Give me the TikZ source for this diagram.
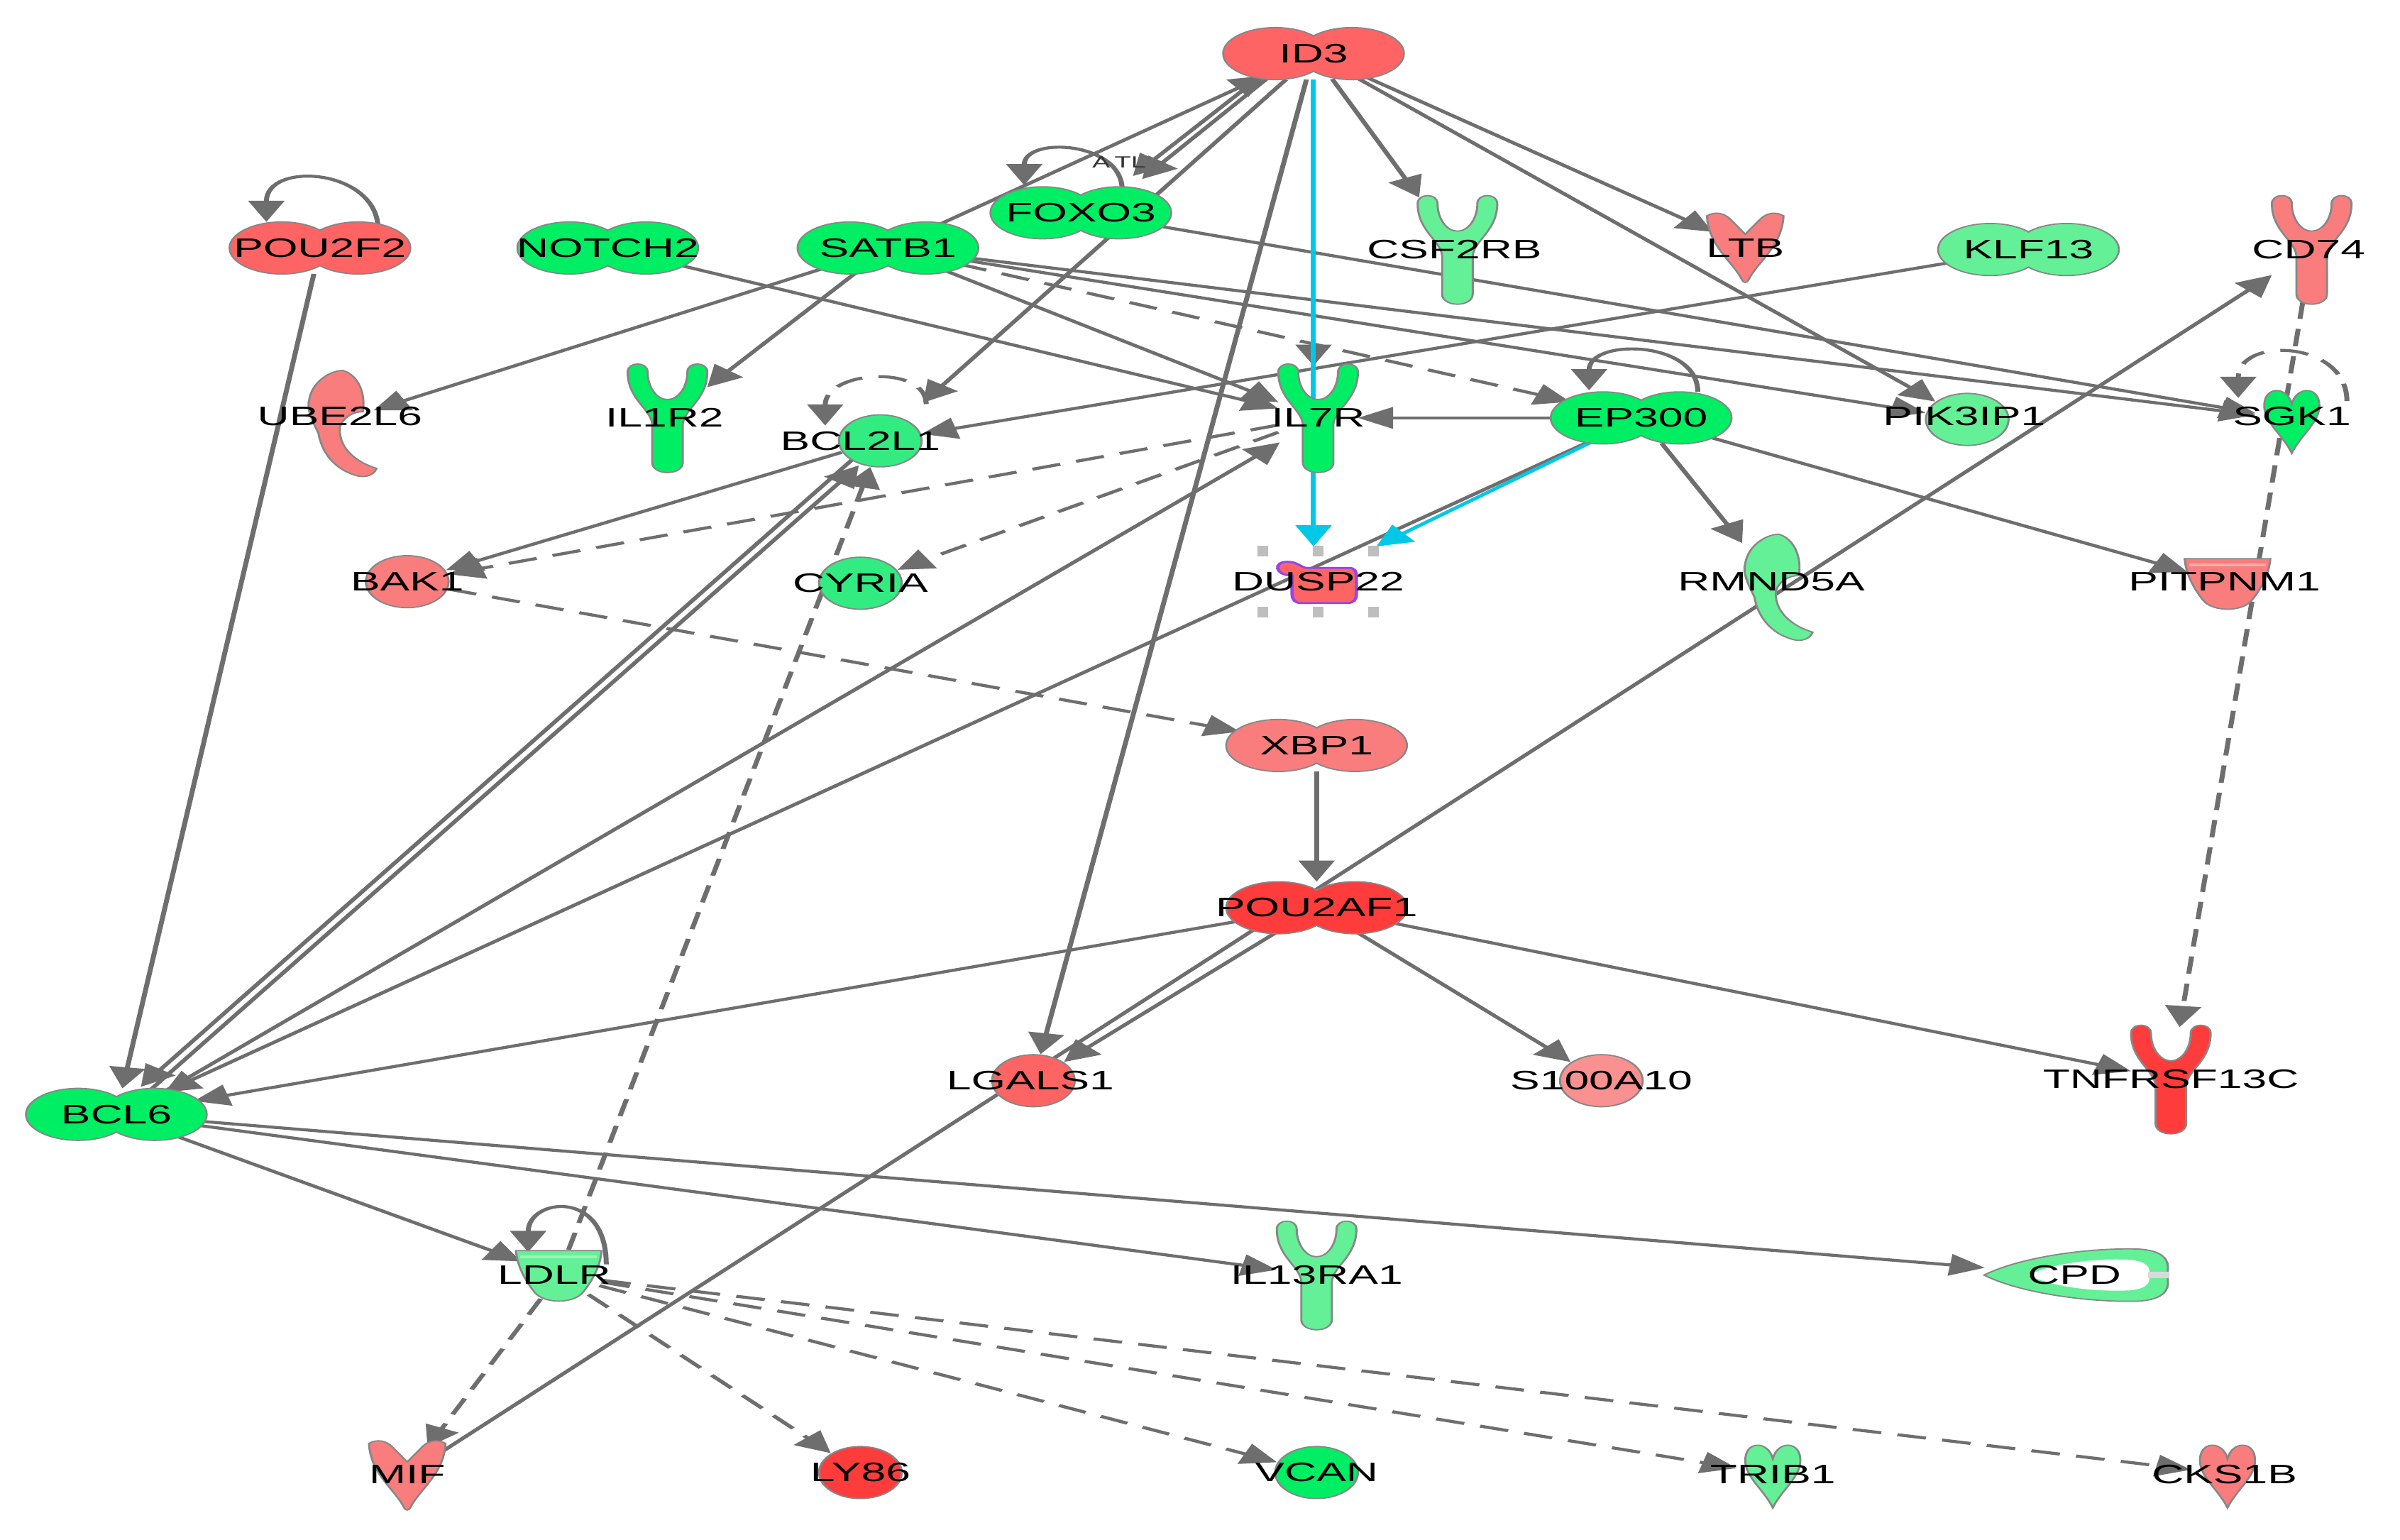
\documentclass[tikz,border=0pt]{standalone}
\usepackage{fontspec}
\setmainfont{Liberation Sans}
\usetikzlibrary{arrows.meta, shapes.geometric}

\definecolor{upA}{RGB}{255,60,60}
\definecolor{upB}{RGB}{255,100,100}
\definecolor{upC}{RGB}{250,125,125}
\definecolor{upD}{RGB}{250,145,145}
\definecolor{dnA}{RGB}{0,238,100}
\definecolor{dnB}{RGB}{50,236,130}
\definecolor{dnC}{RGB}{100,240,150}
\definecolor{lnk}{RGB}{110,110,110}
\definecolor{hot}{RGB}{0,200,230}
\definecolor{rim}{RGB}{135,135,135}
\definecolor{sel}{RGB}{190,190,190}
\definecolor{phorim}{RGB}{150,70,230}

\tikzset{
  hub/.style={inner sep=0pt, outer sep=0pt},
  tfhub/.style={hub, ellipse, minimum width=1.533cm, minimum height=0.733cm},
  rchub/.style={hub, rectangle, minimum width=0.676cm, minimum height=1.467cm},
  othub/.style={hub, ellipse, minimum width=0.728cm, minimum height=0.755cm},
  smhub/.style={hub, ellipse, minimum width=0.624cm, minimum height=0.906cm},
  enhub/.style={hub, rectangle, minimum width=0.572cm, minimum height=1.424cm},
  trhub/.style={hub, ellipse, minimum width=0.754cm, minimum height=0.733cm},
  pephub/.style={hub, ellipse, minimum width=1.585cm, minimum height=0.733cm},
  phohub/.style={hub, rectangle, minimum width=0.988cm, minimum height=0.992cm},
  gene/.style={font=\fontsize{10.7}{12}\selectfont, inner sep=0pt},
  rel/.style={draw=lnk, line width=1.2pt, -{Triangle[length=8.5pt, width=8.5pt]}},
  relx/.style={rel, dash pattern=on 7pt off 4pt},
  hotrel/.style={rel, draw=hot},
  rimline/.style={draw=rim, line width=0.5pt},
  % regulateur de transcription
  tf/.pic={
    \path[rimline, pic actions] (-25,0) circle[x radius=34, y radius=17] (25,0) circle[x radius=34, y radius=17];
    \path[pic actions] (-25,0) circle[x radius=33.4, y radius=16.4] (25,0) circle[x radius=33.4, y radius=16.4];
  },
  % recepteur
  rc/.pic={
    \path[rimline, pic actions] (-26,-30) .. controls (-26,-37) and (-13,-37) .. (-13,-30)
      .. controls (-13,-20) and (-7,-12) .. (0,-12) .. controls (7,-12) and (13,-20) .. (13,-30)
      .. controls (13,-37) and (26,-37) .. (26,-30) .. controls (26,-12) and (11,-6) .. (10,4)
      -- (10,29) .. controls (10,38) and (-10,38) .. (-10,29)
      -- (-10,4) .. controls (-11,-6) and (-26,-12) .. (-26,-30) -- cycle;
  },
  oth/.pic={
    \path[rimline, pic actions] (0,0) circle[x radius=27, y radius=17];
  },
  kin/.pic={
    \path[rimline, pic actions] (0,-10) .. controls (-3,-22) and (-18,-22) .. (-18,-9)
      .. controls (-18,2) and (-6,10) .. (0,22) .. controls (6,10) and (18,2) .. (18,-9)
      .. controls (18,-22) and (3,-22) .. (0,-10) -- cycle;
  },
  cyt/.pic={
    \path[rimline, pic actions] (-25,-20) .. controls (-20,-23) and (-14,-22) .. (-10,-18) -- (0,-8) -- (10,-18)
      .. controls (14,-22) and (20,-23) .. (25,-20) .. controls (24,0) and (8,10) .. (2,22)
      .. controls (1,24) and (-1,24) .. (-2,22) .. controls (-8,10) and (-24,0) .. (-25,-20) -- cycle;
  },
  enz/.pic={
    \path[rimline, pic actions] (2,-33) .. controls (12,-30) and (17,-18) .. (15,-6)
      .. controls (8,-6) and (2,-2) .. (0,4) .. controls (-1,16) and (8,26) .. (24,31)
      .. controls (22,36) and (16,37) .. (12,36) .. controls (-4,32) and (-12,20) .. (-14,8)
      .. controls (-18,0) and (-22,-8) .. (-20,-14) .. controls (-18,-26) and (-6,-33) .. (2,-33) -- cycle;
  },
  trp/.pic={
    \path[rimline, pic actions] (-28,-16) -- (28,-16) .. controls (27,-4) and (20,6) .. (16,11)
      .. controls (10,19) and (-10,19) .. (-16,11) .. controls (-20,6) and (-27,-4) .. (-28,-16) -- cycle;
    \draw[white, opacity=.35, line width=1pt] (-25,-12) -- (25,-12);
  },
  pho/.pic={
    \path[draw=phorim, line width=0.8pt, pic actions] (-17,-4) .. controls (-28,-4) and (-30,-13) .. (-20,-13)
      .. controls (-14,-13) and (-12,-10) .. (-8,-9) -- (20,-9) .. controls (24,-9) and (25,-7) .. (25,-3)
      -- (25,8) .. controls (25,12) and (23,14) .. (19,14) -- (-11,14) .. controls (-15,14) and (-17,12) .. (-17,8) -- cycle;
  },
  pep/.pic={
    \path[rimline, pic actions] (-59,0) .. controls (-35,-12) and (10,-18) .. (42,-17) .. controls (58,-16) and (62,-10) .. (61,-3)
      -- (61,3) .. controls (62,10) and (58,16) .. (42,17) .. controls (10,18) and (-35,12) .. (-59,0) -- cycle;
    \fill[white] (-30,0) .. controls (-14,-8) and (14,-11) .. (36,-10) .. controls (46,-9) and (49,-6) .. (49,-2)
      -- (49,2) .. controls (49,6) and (46,9) .. (36,10) .. controls (14,11) and (-14,8) .. (-30,0) -- cycle;
    \fill[black!15] (48,-2) rectangle (62,2);
  }
}

\begin{document}
\begin{tikzpicture}[x=0.02157cm, y=-0.02157cm]
\path[use as bounding box, fill=white] (0,0) rectangle (1568,1006);
\begin{scope}[x=0.012994cm, transform canvas={xscale=1.66}]
    % points d'ancrage des genes
    \node[tfhub] (id3) at (858,35) {};
    \node[tfhub] (pou2f2) at (209,162) {};
    \node[tfhub] (notch2) at (397,162) {};
    \node[tfhub] (satb1) at (580,162) {};
    \node[tfhub] (foxo3) at (706,139) {};
    \node[tfhub] (klf13) at (1325,163) {};
    \node[tfhub] (ep300) at (1072,273) {};
    \node[tfhub] (xbp1) at (860,487) {};
    \node[tfhub] (pou2af1) at (860,593) {};
    \node[tfhub] (bcl6) at (76,728) {};
    \node[rchub] (csf2rb) at (952,163) {};
    \node[rchub] (cd74) at (1510,163) {};
    \node[rchub] (il1r2) at (436,273) {};
    \node[rchub] (il7r) at (861,273) {};
    \node[rchub] (tnfrsf13c) at (1418,705) {};
    \node[rchub] (il13ra1) at (860,833) {};
    \node[othub] (bcl2l1) at (575,288) {};
    \node[othub] (bak1) at (266,380) {};
    \node[othub] (cyria) at (562,381) {};
    \node[othub] (pik3ip1) at (1285,274) {};
    \node[othub] (lgals1) at (675,706) {};
    \node[othub] (s100a10) at (1046,706) {};
    \node[othub] (ly86) at (562,962) {};
    \node[othub] (vcan) at (860,962) {};
    \node[smhub] (ltb) at (1140,161) {};
    \node[smhub] (mif) at (266,963) {};
    \node[smhub] (sgk1) at (1497,274) {};
    \node[smhub] (trib1) at (1158,963) {};
    \node[smhub] (cks1b) at (1455,963) {};
    \node[enhub] (ube2l6) at (222,275) {};
    \node[enhub] (rmnd5a) at (1160,382) {};
    \node[trhub] (ldlr) at (365,833) {};
    \node[trhub] (pitpnm1) at (1455,381) {};
    \node[phohub] (dusp22) at (861,380) {};
    \node[pephub] (cpd) at (1355,833) {};

    % relations
    \draw[rel] (satb1) -- (id3);
    \draw[rel] ([shift={(-36,16)}]id3.center) -- ([shift={(34,-24)}]foxo3.center);
    \draw[rel] ([shift={(-30,16)}]id3.center) -- ([shift={(40,-22)}]foxo3.center);
    \draw[rel] ([shift={(-18,17)}]id3.center) -- ([shift={(28,-25)}]bcl2l1.center);
    \draw[rel] (id3) -- (lgals1);
    \draw[rel] (id3.south) -- (id3.south |- il7r.north);
    \draw[rel] (id3) -- (csf2rb);
    \draw[rel] (id3) -- (ltb);
    \draw[rel] (id3) -- (pik3ip1);
    \draw[rel] (foxo3) -- (sgk1);
    \draw[rel] (satb1) -- (sgk1);
    \draw[rel] (satb1) -- (pik3ip1);
    \draw[relx] (satb1) -- (ep300);
    \draw[rel] (satb1) -- (il7r);
    \draw[rel] (satb1) -- (il1r2);
    \draw[rel] (satb1) -- (ube2l6);
    \draw[rel] (notch2) -- (il7r);
    \draw[rel] (klf13) -- (bcl2l1);
    \draw[rel] (ep300) -- (il7r);
    \draw[rel] (ep300) -- (rmnd5a);
    \draw[rel] (ep300) -- (pitpnm1);
    \draw[rel] (ep300) -- (bcl6);
    \draw[relx] (il7r) -- (bak1);
    \draw[relx] (il7r) -- (cyria);
    \draw[rel] (bcl2l1) -- (bak1);
    \draw[relx] (bak1) -- (xbp1);
    \draw[rel] (xbp1) -- (pou2af1);
    \draw[rel] (pou2af1) -- (bcl6);
    \draw[rel] (pou2af1) -- (lgals1);
    \draw[rel] (pou2af1) -- (s100a10);
    \draw[rel] (pou2af1) -- (tnfrsf13c);
    \draw[rel] (mif) -- (cd74);
    \draw[relx] (cd74) -- (tnfrsf13c);
    \draw[rel] (pou2f2) -- (bcl6);
    \draw[rel] ([shift={(20,-14)}]bcl6.center) -- ([shift={(-14,16)}]bcl2l1.center);
    \draw[rel] ([shift={(-18,12)}]bcl2l1.center) -- ([shift={(16,-18)}]bcl6.center);
    \draw[rel] ([shift={(28,-13)}]bcl6.center) -- ([shift={(-25,16)}]il7r.center);
    \draw[rel] (bcl6) -- (ldlr);
    \draw[rel] (bcl6) -- (il13ra1);
    \draw[rel] (bcl6) -- (cpd);
    \draw[relx] (ldlr) -- (bcl2l1);
    \foreach \g in {mif,ly86,vcan,trib1,cks1b}
        \draw[relx] (ldlr) -- (\g);

    % boucles
    \draw[rel] ([shift={(38,-12)}]pou2f2.center) .. controls +(0,-40) and +(0,-40) .. ([shift={(-35,-17)}]pou2f2.center);
    \draw[rel] ([shift={(27,-15)}]foxo3.center) .. controls +(0,-32) and +(0,-32) .. ([shift={(-37,-18)}]foxo3.center);
    \draw[rel] ([shift={(37,-17)}]ep300.center) .. controls +(0,-34) and +(0,-34) .. ([shift={(-34,-18)}]ep300.center);
    \draw[relx] ([shift={(30,-24)}]bcl2l1.center) .. controls +(0,-26) and +(0,-36) .. ([shift={(-36,-10)}]bcl2l1.center);
    \draw[relx] ([shift={(36,-12)}]sgk1.center) .. controls +(0,-40) and +(0,-40) .. ([shift={(-35,-14)}]sgk1.center);
    \draw[rel] ([shift={(31,-7)}]ldlr.center) .. controls +(0,-50) and +(0,-35) .. ([shift={(-20,-15)}]ldlr.center);
    \node[font=\fontsize{6.5}{7}\selectfont, inner sep=0pt, text=black!80] (atl) at (731,106) {A\,TL};

    % chemin en cyan
    \draw[hotrel] (id3.south) -- (id3.south |- dusp22.north);
    \draw[hotrel] (ep300) -- (dusp22.north east);

    % formes
    \pic[fill=upB] at (id3) {tf};
    \pic[fill=upB] at (pou2f2) {tf};
    \pic[fill=dnA] at (notch2) {tf};
    \pic[fill=dnA] at (satb1) {tf};
    \pic[fill=dnA] at (foxo3) {tf};
    \pic[fill=dnC] at (klf13) {tf};
    \pic[fill=dnA] at (ep300) {tf};
    \pic[fill=upC] at (xbp1) {tf};
    \pic[fill=upA] at (pou2af1) {tf};
    \pic[fill=dnA] at (bcl6) {tf};
    \pic[fill=dnC] at (csf2rb) {rc};
    \pic[fill=upC] at (cd74) {rc};
    \pic[fill=dnA] at (il1r2) {rc};
    \pic[fill=dnA] at (il7r) {rc};
    \pic[fill=upA] at (tnfrsf13c) {rc};
    \pic[fill=dnC] at (il13ra1) {rc};
    \pic[fill=dnB] at (bcl2l1) {oth};
    \pic[fill=upC] at (bak1) {oth};
    \pic[fill=dnB] at (cyria) {oth};
    \pic[fill=dnC] at (pik3ip1) {oth};
    \pic[fill=upB] at (lgals1) {oth};
    \pic[fill=upD] at (s100a10) {oth};
    \pic[fill=upA] at (ly86) {oth};
    \pic[fill=dnA] at (vcan) {oth};
    \pic[fill=upC] at (ltb) {cyt};
    \pic[fill=upC] at (mif) {cyt};
    \pic[fill=dnA] at (sgk1) {kin};
    \pic[fill=dnC] at (trib1) {kin};
    \pic[fill=upC] at (cks1b) {kin};
    \pic[fill=upC] at (ube2l6) {enz};
    \pic[fill=dnC] at (rmnd5a) {enz};
    \pic[fill=dnC] at (ldlr) {trp};
    \pic[fill=upC] at (pitpnm1) {trp};
    \pic[fill=upB] at (dusp22) {pho};
    \pic[fill=dnC] at (cpd) {pep};
    \foreach \dx in {-36,0,36}
        \foreach \dy in {-20,20}
            \fill[sel] ([shift={(\dx,\dy)}]dusp22.center) ++(-3.5,-3.5) rectangle ++(7,7);

    % noms des genes
    \node[gene] (t-id3) at (id3) {ID3};
    \node[gene] (t-pou2f2) at (pou2f2) {POU2F2};
    \node[gene] (t-notch2) at (notch2) {NOTCH2};
    \node[gene] (t-satb1) at (satb1) {SATB1};
    \node[gene] (t-foxo3) at (foxo3) {FOXO3};
    \node[gene] (t-klf13) at (klf13) {KLF13};
    \node[gene] (t-ep300) at (ep300) {EP300};
    \node[gene] (t-xbp1) at (xbp1) {XBP1};
    \node[gene] (t-pou2af1) at (pou2af1) {POU2AF1};
    \node[gene] (t-bcl6) at (bcl6) {BCL6};
    \node[gene] (t-csf2rb) at ([shift={(-2,0)}]csf2rb.center) {CSF2RB};
    \node[gene] (t-cd74) at ([shift={(-2,0)}]cd74.center) {CD74};
    \node[gene] (t-il1r2) at ([shift={(-2,0)}]il1r2.center) {IL1R2};
    \node[gene] (t-il7r) at (il7r) {IL7R};
    \node[gene] (t-tnfrsf13c) at (tnfrsf13c) {TNFRSF13C};
    \node[gene] (t-il13ra1) at (il13ra1) {IL13RA1};
    \node[gene] (t-bcl2l1) at ([shift={(-13,0)}]bcl2l1.center) {BCL2L1};
    \node[gene] (t-bak1) at (bak1) {BAK1};
    \node[gene] (t-cyria) at (cyria) {CYRIA};
    \node[gene] (t-pik3ip1) at ([shift={(-2,-2)}]pik3ip1.center) {PIK3IP1};
    \node[gene] (t-lgals1) at ([shift={(-2,0)}]lgals1.center) {LGALS1};
    \node[gene] (t-s100a10) at (s100a10) {S100A10};
    \node[gene] (t-ly86) at (ly86) {LY86};
    \node[gene] (t-vcan) at (vcan) {VCAN};
    \node[gene] (t-ltb) at ([shift={(0,1)}]ltb.center) {LTB};
    \node[gene] (t-mif) at (mif) {MIF};
    \node[gene] (t-sgk1) at ([shift={(0,-2)}]sgk1.center) {SGK1};
    \node[gene] (t-trib1) at (trib1) {TRIB1};
    \node[gene] (t-cks1b) at ([shift={(-2,0)}]cks1b.center) {CKS1B};
    \node[gene] (t-ube2l6) at ([shift={(0,-3)}]ube2l6.center) {UBE2L6};
    \node[gene] (t-rmnd5a) at ([shift={(-3,-2)}]rmnd5a.center) {RMND5A};
    \node[gene] (t-ldlr) at ([shift={(-3,0)}]ldlr.center) {LDLR};
    \node[gene] (t-pitpnm1) at ([shift={(-2,-1)}]pitpnm1.center) {PITPNM1};
    \node[gene] (t-dusp22) at (dusp22) {DUSP22};
    \node[gene] (t-cpd) at (cpd) {CPD};
\end{scope}
\end{tikzpicture}
\end{document}
